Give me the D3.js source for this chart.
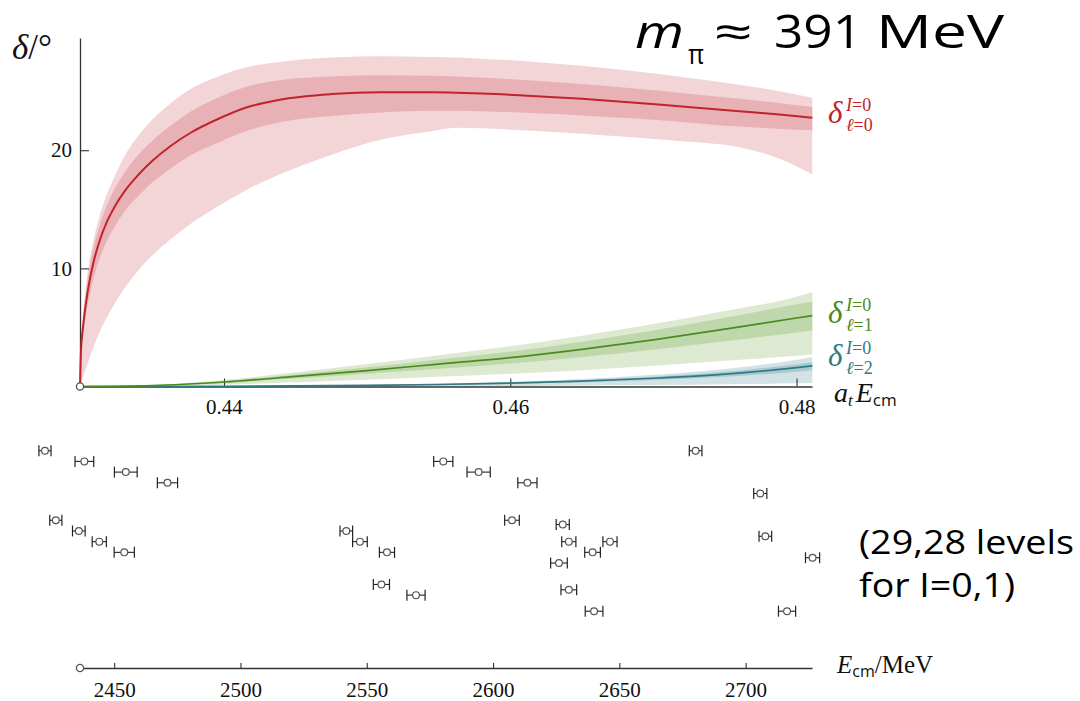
<!DOCTYPE html>
<html>
<head>
<meta charset="utf-8">
<script src="https://cdn.jsdelivr.net/npm/d3@7"></script>
<style>
  body { margin: 0; background: #fff; }
  svg { display: block; }
</style>
</head>
<body>
<svg id="chart" width="1080" height="701"></svg>
<script>
// ---------- data ----------
// inverse lattice spacing (MeV), links a_t E_cm to E_cm
const atInv = 5667;
const threshold = 0.42994;          // a_t E_cm at threshold
const aMax = 0.48108;

// S-wave (l = 0) phase shift, degrees, with inner / outer bands
const gridS = [0.42994, 0.43000, 0.43015, 0.43035, 0.43060, 0.43090, 0.43130, 0.43180, 0.43240, 0.43310,
               0.43400, 0.43500, 0.43620, 0.43770, 0.43950, 0.44150, 0.4440, 0.4475, 0.4510, 0.4545,
               0.4562, 0.4580, 0.4615, 0.4650, 0.4685, 0.4720, 0.4760, 0.4790, 0.4811];
const deltaS        = [0, 2.8, 5.0, 7.0, 8.9, 10.6, 12.3, 13.9, 15.3, 16.6, 17.9, 19.1, 20.3, 21.5, 22.6, 23.6,
                       24.3, 24.75, 24.9, 24.9, 24.87, 24.8, 24.6, 24.35, 24.05, 23.7, 23.3, 23.0, 22.75];
const deltaSInnerHi = [0, 3.2, 5.7, 7.9, 10.0, 11.8, 13.6, 15.3, 16.8, 18.2, 19.6, 20.8, 22.0, 23.3, 24.4, 25.35,
                       25.95, 26.25, 26.35, 26.3, 26.25, 26.15, 25.9, 25.6, 25.25, 24.85, 24.35, 23.95, 23.65];
const deltaSInnerLo = [0, 2.3, 4.2, 6.0, 7.6, 9.2, 10.8, 12.3, 13.6, 14.9, 16.1, 17.3, 18.4, 19.6, 20.6, 21.6,
                       22.4, 22.9, 23.2, 23.35, 23.35, 23.3, 23.15, 22.95, 22.7, 22.4, 22.0, 21.8, 21.7];
const deltaSOuterHi = [0, 3.5, 6.1, 8.5, 10.6, 12.5, 14.4, 16.2, 17.9, 19.6, 21.2, 22.6, 23.9, 25.2, 26.2, 27.0,
                       27.5, 27.85, 27.95, 27.9, 27.85, 27.75, 27.5, 27.15, 26.7, 26.2, 25.55, 24.95, 24.45];
const deltaSOuterLo = [0, 0.3, 0.8, 1.5, 2.4, 3.4, 4.6, 5.8, 7.1, 8.4, 9.8, 11.1, 12.4, 13.8, 15.2, 16.6,
                       18.0, 19.6, 20.9, 21.6, 21.9, 21.85, 21.65, 21.4, 21.1, 20.75, 20.25, 19.2, 17.95];

// P-wave (l = 1) and D-wave (l = 2) phase shifts
const gridPD = [0.42994, 0.4350, 0.4400, 0.4450, 0.4500, 0.4550, 0.4600, 0.4650, 0.4700, 0.4750, 0.4800, 0.4811];
const deltaP        = [0, 0.08, 0.38, 0.85, 1.35, 1.9, 2.45, 3.15, 3.95, 4.85, 5.8, 6.0];
const deltaPInnerHi = [0, 0.10, 0.46, 1.02, 1.62, 2.28, 2.94, 3.78, 4.74, 5.82, 6.96, 7.2];
const deltaPInnerLo = [0, 0.06, 0.30, 0.67, 1.07, 1.50, 1.94, 2.49, 3.12, 3.83, 4.58, 4.75];
const deltaPOuterHi = [0, 0.12, 0.55, 1.2, 1.9, 2.65, 3.4, 4.3, 5.3, 6.4, 7.6, 8.0];
const deltaPOuterLo = [0, 0.03, 0.15, 0.36, 0.58, 0.82, 1.07, 1.38, 1.75, 2.17, 2.6, 2.7];
const deltaD        = [0, 0, 0.02, 0.05, 0.10, 0.17, 0.28, 0.45, 0.70, 1.05, 1.60, 1.75];
const deltaDInnerHi = [0, 0, 0.02, 0.06, 0.12, 0.20, 0.33, 0.53, 0.83, 1.24, 1.89, 2.06];
const deltaDInnerLo = [0, 0, 0.015, 0.04, 0.08, 0.13, 0.22, 0.35, 0.55, 0.82, 1.25, 1.37];
const deltaDOuterHi = [0, 0, 0.03, 0.08, 0.15, 0.25, 0.40, 0.64, 0.99, 1.49, 2.27, 2.5];
const deltaDOuterLo = [0, 0, 0, 0.01, 0.02, 0.03, 0.05, 0.08, 0.12, 0.18, 0.27, 0.3];

// finite-volume energy levels (MeV) with uncertainty and display row
const levelE   = [2422.6, 2438.2, 2454.6, 2471.1, 2426.9, 2436.0, 2444.1, 2454.0, 2580.3, 2594.3,
                  2613.6, 2607.5, 2627.6, 2630.0, 2639.4, 2626.1, 2630.0, 2640.0, 2541.9, 2547.3,
                  2558.0, 2555.8, 2569.5, 2646.3, 2680.2, 2705.8, 2707.8, 2726.5, 2716.4];
const levelErr = [2.4, 3.7, 4.5, 4.0, 2.4, 2.5, 2.8, 4.0, 3.8, 4.6,
                  3.8, 2.9, 2.6, 2.8, 3.1, 3.3, 3.1, 3.5, 2.5, 2.9,
                  3.0, 3.2, 3.6, 2.8, 2.5, 2.6, 2.5, 2.8, 3.4];
const levelRow = [1, 2, 3, 4, 7.5, 8.5, 9.5, 10.5, 2, 3,
                  4, 7.5, 7.9, 9.5, 10.5, 11.5, 14, 16, 8.5, 9.5,
                  10.5, 13.5, 14.5, 9.5, 1, 5, 9, 11, 16];

const phaseTicks = [10, 20];
const aTicks = [0.44, 0.46, 0.48];
const eTicks = [2450, 2500, 2550, 2600, 2650, 2700];

// ---------- colours ----------
const C = {
  red: "#c1232c", redOuter: "#f3d5d7", redInner: "#e8b1b5",
  green: "#4b8a1d", greenOuter: "#dde9d1", greenInner: "#bfd8ab",
  teal: "#2f7a84", tealOuter: "#d3e3e5", tealInner: "#a8cbd0",
  axis: "#333"
};
const serif = "'Liberation Serif', 'DejaVu Serif', serif";
const slideFont = "'Open Sans', 'Noto Sans', sans-serif";

// ---------- scales ----------
const x = d3.scaleLinear().domain([threshold, aMax]).range([80, 812]);
const y = d3.scaleLinear().domain([0, 29.5]).range([386.5, 38]);
const xE = d3.scaleLinear().domain([threshold * atInv, aMax * atInv]).range([80, 812]);
const yRow = d3.scaleLinear().domain([0, 20]).range([440, 654]);

const svg = d3.select("#chart");

// ---------- phase-shift bands ----------
function band(grid, lo, hi, fill) {
  const area = d3.area()
    .x((d, i) => x(grid[i]))
    .y0((d, i) => y(lo[i]))
    .y1((d, i) => y(hi[i]))
    .curve(d3.curveMonotoneX);
  svg.append("path").attr("d", area(grid)).attr("fill", fill);
}
function curve(grid, vals, stroke, w) {
  const line = d3.line()
    .x((d, i) => x(grid[i]))
    .y((d, i) => y(vals[i]))
    .curve(d3.curveMonotoneX);
  svg.append("path").attr("d", line(grid)).attr("fill", "none")
    .attr("stroke", stroke).attr("stroke-width", w);
}

band(gridS, deltaSOuterLo, deltaSOuterHi, C.redOuter);
band(gridS, deltaSInnerLo, deltaSInnerHi, C.redInner);
band(gridPD, deltaPOuterLo, deltaPOuterHi, C.greenOuter);
band(gridPD, deltaPInnerLo, deltaPInnerHi, C.greenInner);
band(gridPD, deltaDOuterLo, deltaDOuterHi, C.tealOuter);
band(gridPD, deltaDInnerLo, deltaDInnerHi, C.tealInner);

// ---------- axes (upper panel) ----------
function styleAxis(g) {
  g.select(".domain").attr("stroke", C.axis).attr("stroke-width", 1.3);
  g.selectAll(".tick line").attr("stroke", C.axis).attr("stroke-width", 1.1);
  g.selectAll(".tick text").attr("font-family", serif).attr("font-size", 21).attr("fill", "#111");
}

svg.append("g").attr("transform", "translate(80,0)")
  .call(d3.axisLeft(y).tickValues(phaseTicks).tickSize(-9).tickSizeOuter(0).tickPadding(8))
  .call(styleAxis);

svg.append("g").attr("transform", "translate(0,386.5)")
  .call(d3.axisBottom(x).tickValues(aTicks).tickFormat(d3.format(".2f"))
    .tickSize(-8).tickSizeOuter(0).tickPadding(13))
  .call(styleAxis);

curve(gridPD, deltaD, C.teal, 1.7);
curve(gridPD, deltaP, C.green, 1.7);
curve(gridS, deltaS, C.red, 2);

svg.append("circle").attr("cx", x(threshold)).attr("cy", y(0)).attr("r", 3.6)
  .attr("fill", "#fff").attr("stroke", "#555").attr("stroke-width", 1.3);

// y-axis title  δ/°
const yt = svg.append("text").attr("x", 12).attr("y", 59)
  .attr("font-family", serif).attr("font-size", 35).attr("fill", "#111");
yt.append("tspan").attr("font-style", "italic").text("δ");
yt.append("tspan").text("/°");

// curve labels: δ with isospin superscript and partial-wave subscript
function deltaLabel(ell, color, base) {
  svg.append("text").attr("x", 828).attr("y", base)
    .attr("font-family", serif).attr("font-size", 31).attr("font-style", "italic")
    .attr("fill", color).text("δ");
  const sup = svg.append("text").attr("x", 846).attr("y", base - 12)
    .attr("font-family", serif).attr("font-size", 18).attr("fill", color);
  sup.append("tspan").attr("font-style", "italic").text("I");
  sup.append("tspan").text("=0");
  const sub = svg.append("text").attr("x", 846).attr("y", base + 8)
    .attr("font-family", serif).attr("font-size", 18).attr("fill", color);
  sub.append("tspan").attr("font-style", "italic").text("ℓ");
  sub.append("tspan").text("=" + ell);
}
deltaLabel(0, C.red, 123);
deltaLabel(1, C.green, 323);
deltaLabel(2, C.teal, 366);

// a_t E_cm axis title
const at = svg.append("text").attr("x", 834).attr("y", 402)
  .attr("font-family", serif).attr("font-size", 28).attr("fill", "#111");
at.append("tspan").attr("font-style", "italic").text("a");
at.append("tspan").attr("font-style", "italic").attr("font-size", 17).attr("dy", 4).text("t");
at.append("tspan").attr("font-style", "italic").attr("dy", -4).attr("dx", 3).text("E");
at.append("tspan").attr("font-family", slideFont).attr("font-size", 17).attr("dy", 4).text("cm");

// ---------- energy levels (lower panel) ----------
const lv = svg.append("g");
levelE.forEach((e, i) => {
  const cy = yRow(levelRow[i]);
  const x0 = xE(e - levelErr[i]), x1 = xE(e + levelErr[i]);
  lv.append("line").attr("x1", x0).attr("x2", x1).attr("y1", cy).attr("y2", cy)
    .attr("stroke", "#222").attr("stroke-width", 1.1);
  [x0, x1].forEach(xc => lv.append("line").attr("x1", xc).attr("x2", xc)
    .attr("y1", cy - 5.5).attr("y2", cy + 5.5).attr("stroke", "#222").attr("stroke-width", 1.2));
  lv.append("circle").attr("cx", xE(e)).attr("cy", cy).attr("r", 3.4)
    .attr("fill", "#fff").attr("stroke", "#555").attr("stroke-width", 1.2);
});

svg.append("g").attr("transform", "translate(0,668)")
  .call(d3.axisBottom(xE).tickValues(eTicks).tickFormat(d3.format("d"))
    .tickSize(-5).tickSizeOuter(0).tickPadding(14))
  .call(styleAxis);

svg.append("circle").attr("cx", xE(threshold * atInv)).attr("cy", 668).attr("r", 3.6)
  .attr("fill", "#fff").attr("stroke", "#555").attr("stroke-width", 1.3);

const et = svg.append("text").attr("x", 837).attr("y", 673)
  .attr("font-family", serif).attr("font-size", 25).attr("fill", "#111");
et.append("tspan").attr("font-style", "italic").text("E");
et.append("tspan").attr("font-family", slideFont).attr("font-size", 16).attr("dy", 4).text("cm");
et.append("tspan").attr("dy", -4).text("/MeV");

// ---------- annotations ----------
function slideText(str, xPos, yPos, size, len, italic) {
  svg.append("text").attr("x", xPos).attr("y", yPos)
    .attr("font-family", slideFont).attr("font-size", size)
    .attr("font-style", italic ? "italic" : "normal").attr("fill", "#000")
    .attr("textLength", len).attr("lengthAdjust", "spacingAndGlyphs").text(str);
}
slideText("m", 635, 48, 45, 49, true);
slideText("π", 688, 64, 28, 16, false);
slideText("≈", 714, 48, 45, 39, false);
slideText("391", 774, 48, 45, 88, false);
slideText("MeV", 876, 48, 45, 128, false);

slideText("(29,28 levels", 859, 554, 32, 215, false);
slideText("for I=0,1)", 859, 597, 32, 156, false);
</script>
</body>
</html>
